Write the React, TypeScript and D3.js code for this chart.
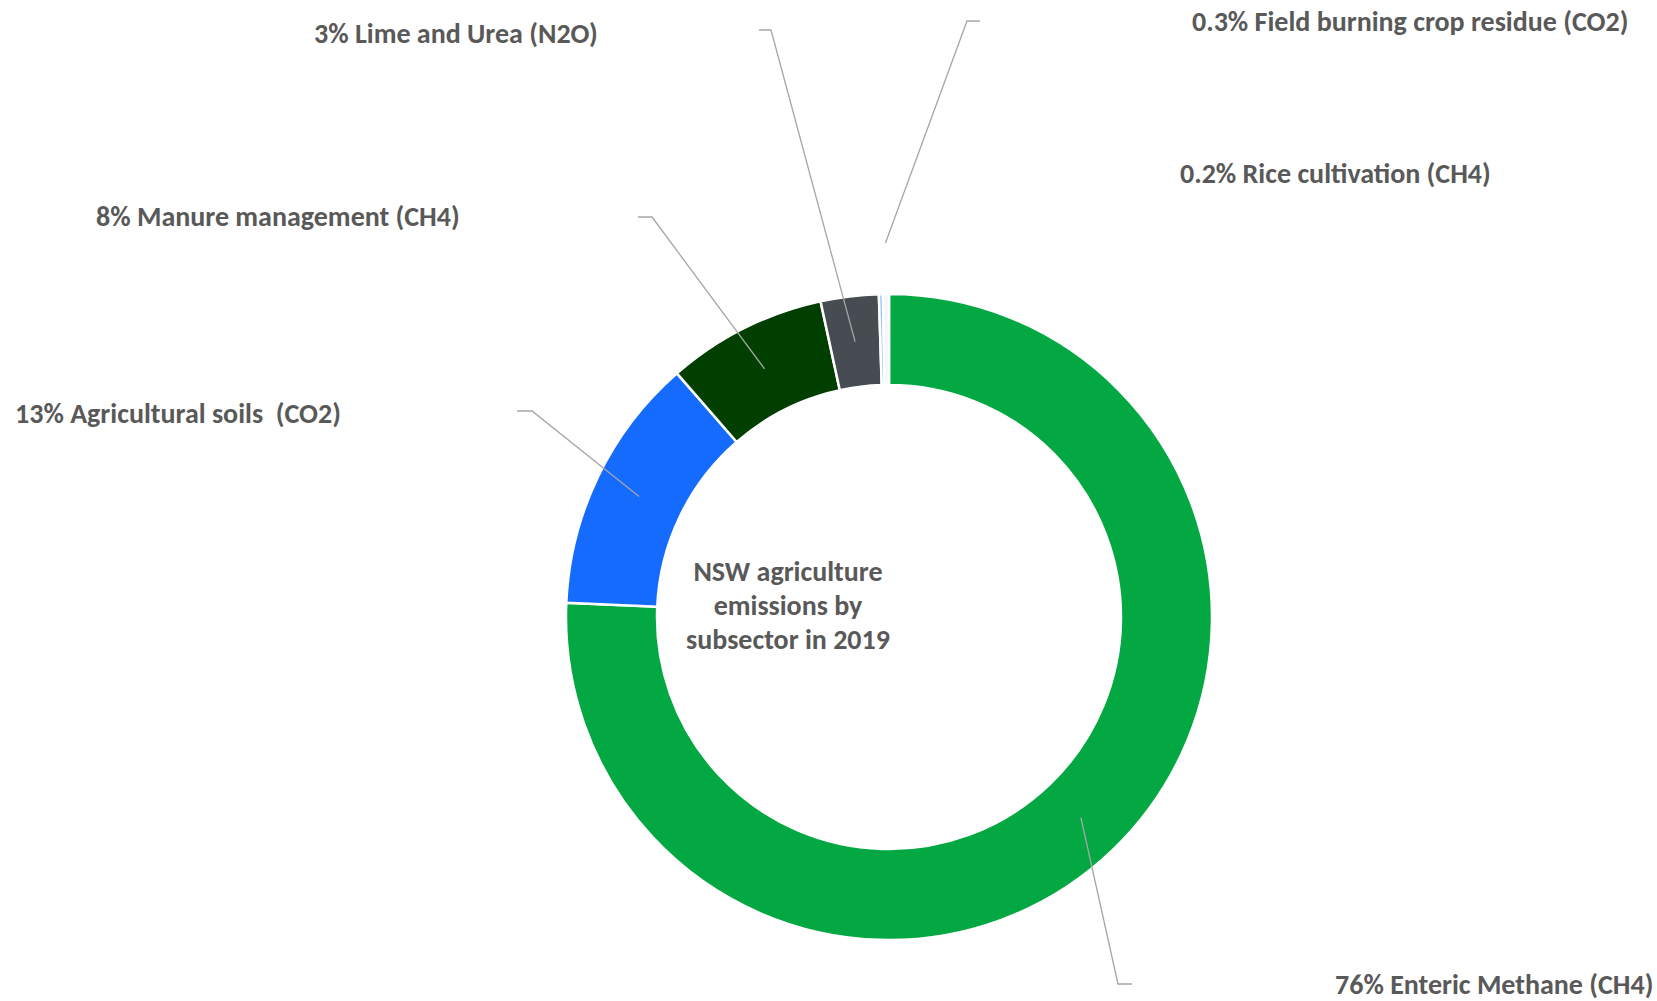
import React, { useEffect, useRef } from 'react';
import * as d3 from 'd3';

// subsectors, in the order they run clockwise from 12 o'clock
const categories = [
  'Enteric Methane (CH4)',
  'Agricultural soils  (CO2)',
  'Manure management (CH4)',
  'Lime and Urea (N2O)',
  'Rice cultivation (CH4)',
  'Field burning crop residue (CO2)',
];
const shares = [75.7, 12.9, 8.0, 2.9, 0.2, 0.3];
const shareLabels = ['76%', '13%', '8%', '3%', '0.2%', '0.3%'];
const titleLines = ['NSW agriculture', 'emissions by', 'subsector in 2019'];

const colors = ['#03a843', '#166bff', '#003f00', '#474c52', '#9cc3f5', '#f4f6f9'];

// label placement: text start + baseline, leader elbow and stub direction
const labelLayout = [
  { tx: 1335, ty: 994, ex: 1118, ey: 984, stub: 14, leader: true },
  { tx: 15, ty: 423, ex: 532, ey: 411, stub: -15, leader: true },
  { tx: 96, ty: 226, ex: 652, ey: 217, stub: -14, leader: true },
  { tx: 314, ty: 43, ex: 771, ey: 30, stub: -12, leader: true },
  { tx: 1180, ty: 183, ex: 0, ey: 0, stub: 0, leader: false },
  { tx: 1192, ty: 31, ex: 967, ey: 21, stub: 13, leader: true },
];

const W = 1657;
const H = 1001;
const cx = 889;
const cy = 617;
const outerR = 323;
const innerR = 232;
const font = 'Calibri, Carlito, Lato, "Open Sans", sans-serif';
const textColor = '#595959';

const App = () => {
  const ref = useRef<SVGSVGElement>(null);

  useEffect(() => {
    const svg = d3.select(ref.current);
    svg.selectAll('*').remove();

    const pie = d3.pie<number>().sort(null).value(d => d).startAngle(0).endAngle(2 * Math.PI);
    const arcs = pie(shares);
    const arc = d3.arc<d3.PieArcDatum<number>>().innerRadius(innerR).outerRadius(outerR);

    const g = svg.append('g').attr('transform', `translate(${cx},${cy})`);
    g.selectAll('path')
      .data(arcs)
      .enter()
      .append('path')
      .attr('d', arc)
      .attr('fill', (d, i) => colors[i])
      .attr('stroke', '#fff')
      .attr('stroke-width', 2.5);

    // leader lines
    arcs.forEach((a, i) => {
      const lay = labelLayout[i];
      if (!lay.leader) return;
      let [px, py] = arc.centroid(a);
      if (a.endAngle - a.startAngle < 0.02) {
        const mid = (a.startAngle + a.endAngle) / 2;
        px = Math.sin(mid) * (outerR + 51);
        py = -Math.cos(mid) * (outerR + 51);
      }
      const pts: [number, number][] = [
        [cx + px, cy + py],
        [lay.ex, lay.ey],
        [lay.ex + lay.stub, lay.ey],
      ];
      svg.append('path')
        .attr('d', d3.line()(pts))
        .attr('fill', 'none')
        .attr('stroke', '#a6a6a6')
        .attr('stroke-width', 1.3);
    });

    // slice labels
    categories.forEach((c, i) => {
      const lay = labelLayout[i];
      svg.append('text')
        .attr('x', lay.tx)
        .attr('y', lay.ty)
        .attr('font-family', font)
        .attr('font-weight', 700)
        .attr('font-size', 28)
        .attr('fill', textColor)
        .style('white-space', 'pre')
        .text(`${shareLabels[i]} ${c}`);
    });

    // centre title
    svg.append('text')
      .attr('x', 788)
      .attr('y', 581)
      .attr('text-anchor', 'middle')
      .attr('font-family', font)
      .attr('font-weight', 700)
      .attr('font-size', 28)
      .attr('fill', textColor)
      .selectAll('tspan')
      .data(titleLines)
      .enter()
      .append('tspan')
      .attr('x', 788)
      .attr('dy', (d, i) => (i === 0 ? 0 : 34))
      .text(d => d);
  }, []);

  return (
    <svg
      ref={ref}
      width={W}
      height={H}
      style={{ position: 'absolute', left: 0, top: 0, background: '#fff' }}
    />
  );
};

export default App;
